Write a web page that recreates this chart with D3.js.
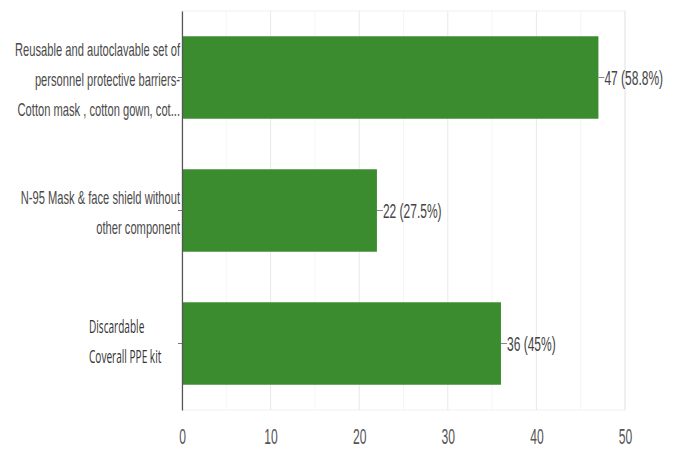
<!DOCTYPE html>
<html>
<head>
    <meta charset="utf-8">
    <title>PPE chart</title>
    <script src="https://d3js.org/d3.v7.min.js"></script>
    <style>
        body { margin: 0; background: #fff; }
        svg { display: block; }
    </style>
</head>
<body>
<div id="chart"></div>
<script>
    // data
    let categories = [
        "Reusable and autoclavable set of personnel protective barriers- Cotton mask , cotton gown, cot...",
        "N-95 Mask & face shield without other component",
        "Discardable Coverall PPE kit"
    ];
    let labelLines = [
        ["Reusable and autoclavable set of", "personnel protective barriers-", "Cotton mask , cotton gown, cot..."],
        ["N-95 Mask & face shield without", "other component"],
        ["Discardable", "Coverall PPE kit"]
    ];
    let counts = [47, 22, 36];
    let percentLabels = ["58.8%", "27.5%", "45%"];
    let xTicks = [0, 10, 20, 30, 40, 50];
    let minorTicks = [5, 15, 25, 35, 45];

    let W = 679, H = 450;
    let plotLeft = 182, plotRight = 625, plotTop = 11, plotBottom = 410;
    let squeeze = 0.62;   // the whole picture looks squeezed sideways

    let svg = d3.select("#chart").append("svg")
        .attr("width", W)
        .attr("height", H);

    let xScale = d3.scaleLinear().domain([0, 50]).range([plotLeft, plotRight]);
    let yScale = d3.scaleBand().domain(categories).range([plotTop, plotBottom])
        .paddingInner(0.38).paddingOuter(0.19);

    // frame + grid
    svg.append("rect")
        .attr("x", plotLeft).attr("y", plotTop)
        .attr("width", plotRight - plotLeft).attr("height", plotBottom - plotTop)
        .attr("fill", "none").attr("stroke", "#f0f0f0");

    svg.selectAll(".minor").data(minorTicks).enter().append("line")
        .attr("class", "minor")
        .attr("x1", d => xScale(d)).attr("x2", d => xScale(d))
        .attr("y1", plotTop).attr("y2", plotBottom)
        .attr("stroke", "#f5f5f5");

    svg.selectAll(".major").data(xTicks).enter().append("line")
        .attr("class", "major")
        .attr("x1", d => xScale(d)).attr("x2", d => xScale(d))
        .attr("y1", plotTop).attr("y2", plotBottom)
        .attr("stroke", "#e8e8e8");

    // bars
    svg.selectAll(".bar").data(categories).enter().append("rect")
        .attr("class", "bar")
        .attr("x", xScale(0))
        .attr("y", d => yScale(d))
        .attr("width", (d, i) => xScale(counts[i]) - xScale(0))
        .attr("height", yScale.bandwidth())
        .attr("fill", "#3a8c2f");

    // value labels with little leader line
    let vals = svg.selectAll(".val").data(categories).enter().append("g")
        .attr("class", "val")
        .attr("transform", (d, i) => "translate(" + xScale(counts[i]) + "," + (yScale(d) + yScale.bandwidth() / 2) + ")");
    vals.append("line")
        .attr("x1", 0).attr("x2", 6)
        .attr("stroke", "#888");
    vals.append("text")
        .attr("transform", "translate(6,0) scale(0.6,1)")
        .attr("dy", "0.36em")
        .attr("font-family", "'Liberation Sans', Arial, sans-serif")
        .attr("font-size", 20)
        .attr("fill", "#444")
        .text((d, i) => counts[i] + " (" + percentLabels[i] + ")");

    // x axis
    let xAxis = d3.axisBottom(xScale).tickValues(xTicks).tickSize(0).tickPadding(0);
    let gx = svg.append("g")
        .attr("transform", "translate(0," + plotBottom + ")")
        .call(xAxis);
    gx.select(".domain").remove();
    gx.selectAll("text")
        .attr("y", 0).attr("dy", 0)
        .attr("transform", "translate(0,34) scale(0.55,1)")
        .attr("font-family", "'Liberation Sans', Arial, sans-serif")
        .attr("font-size", 22)
        .attr("fill", "#555");

    // y axis
    let yAxis = d3.axisLeft(yScale).tickSize(4).tickSizeOuter(0).tickFormat("");
    let gy = svg.append("g")
        .attr("transform", "translate(" + plotLeft + ",0)")
        .call(yAxis);
    gy.select(".domain").attr("stroke", "#555").attr("stroke-width", 1.2);
    gy.selectAll(".tick line").attr("stroke", "#777");

    gy.selectAll(".tick").each(function (d, i) {
        let lines = labelLines[i];
        let custom = (i === 2);   // last label was pasted in another font, left aligned
        let t = d3.select(this).append("text")
            .attr("fill", custom ? "#333" : "#4a4a4a")
            .attr("font-family", custom ? "'Open Sans', sans-serif" : "'Liberation Sans', Arial, sans-serif")
            .attr("font-size", 18)
            .attr("text-anchor", custom ? "start" : "end")
            .attr("transform", custom ? "translate(-93,0) scale(0.56,1)" : "translate(-2,0) scale(" + squeeze + ",1)");
        let lh = 30;
        let y0 = -(lines.length - 1) * lh / 2 + (custom ? -2 : 2);
        lines.forEach((ln, k) => {
            t.append("tspan")
                .attr("x", 0)
                .attr("y", y0 + k * lh)
                .attr("dy", "0.36em")
                .text(ln);
        });
    });
</script>
</body>
</html>
